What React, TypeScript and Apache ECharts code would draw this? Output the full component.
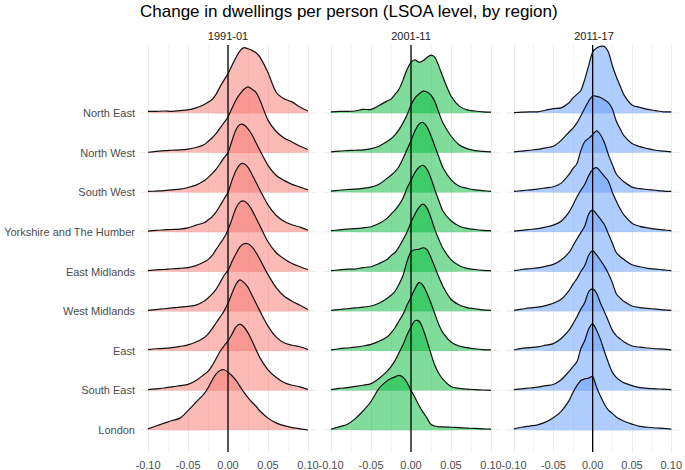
import React, { useEffect, useRef } from 'react';
import * as echarts from 'echarts';

const TITLE = 'Change in dwellings per person (LSOA level, by region)';
const periods = ['1991-01', '2001-11', '2011-17'];
// top to bottom
const regions = [
  'North East', 'North West', 'South West', 'Yorkshire and The Humber',
  'East Midlands', 'West Midlands', 'East', 'South East', 'London',
];
// x positions where ridge heights were read
const xs = [-0.1, -0.09, -0.08, -0.07, -0.06, -0.05, -0.04, -0.03, -0.025, -0.02, -0.015, -0.01, -0.005, 0,
  0.005, 0.01, 0.015, 0.02, 0.025, 0.03, 0.035, 0.04, 0.05, 0.06, 0.07, 0.08, 0.09, 0.1];

// ridge heights (in row spacings) for 1991-01, regions top to bottom
const ridges1991 = [
  [0.04,0.04,0.05,0.04,0.06,0.08,0.13,0.21,0.27,0.34,0.47,0.66,0.83,0.99,1.2,1.4,1.57,1.65,1.62,1.58,1.52,1.41,1.02,0.53,0.36,0.28,0.15,0.05],
  [0.01,0.03,0.05,0.06,0.07,0.09,0.13,0.2,0.28,0.37,0.48,0.62,0.76,0.9,1.12,1.33,1.48,1.6,1.66,1.6,1.52,1.32,0.82,0.54,0.37,0.27,0.16,0.08],
  [0.02,0.03,0.04,0.06,0.08,0.12,0.18,0.29,0.37,0.47,0.58,0.72,0.87,1.0,1.3,1.58,1.71,1.7,1.6,1.45,1.25,1.05,0.68,0.43,0.3,0.2,0.13,0.06],
  [0.02,0.04,0.05,0.06,0.07,0.1,0.17,0.23,0.3,0.38,0.5,0.66,0.83,1.0,1.3,1.55,1.7,1.72,1.63,1.45,1.25,1.05,0.68,0.42,0.27,0.18,0.12,0.04],
  [0.02,0.04,0.05,0.07,0.08,0.1,0.15,0.24,0.3,0.4,0.55,0.7,0.85,1.05,1.32,1.6,1.75,1.78,1.7,1.55,1.35,1.15,0.75,0.48,0.32,0.2,0.12,0.05],
  [0.02,0.04,0.06,0.08,0.1,0.12,0.15,0.25,0.33,0.43,0.55,0.72,0.9,1.03,1.25,1.45,1.62,1.7,1.7,1.62,1.48,1.3,0.92,0.6,0.38,0.25,0.15,0.04],
  [0.03,0.05,0.06,0.08,0.11,0.15,0.22,0.33,0.42,0.55,0.7,0.85,1.0,1.2,1.45,1.68,1.79,1.72,1.6,1.4,1.2,1.0,0.62,0.35,0.2,0.14,0.1,0.03],
  [0.02,0.04,0.06,0.09,0.12,0.15,0.25,0.4,0.48,0.62,0.8,0.98,1.12,1.25,1.42,1.6,1.67,1.6,1.45,1.25,1.03,0.82,0.52,0.33,0.2,0.13,0.09,0.02],
  [0.03,0.1,0.17,0.24,0.3,0.49,0.7,0.91,1.06,1.25,1.41,1.5,1.52,1.46,1.37,1.25,1.1,0.95,0.82,0.7,0.6,0.48,0.3,0.18,0.11,0.06,0.03,0.0],
];
const ridges2001 = [
  [0.03,0.04,0.04,0.05,0.09,0.09,0.19,0.3,0.35,0.47,0.6,0.83,1.1,1.28,1.34,1.28,1.32,1.4,1.46,1.4,1.17,0.9,0.43,0.18,0.08,0.05,0.03,0.02],
  [0.02,0.04,0.05,0.06,0.07,0.1,0.16,0.28,0.35,0.45,0.58,0.75,0.95,1.2,1.38,1.48,1.55,1.53,1.45,1.28,1.0,0.75,0.42,0.2,0.1,0.05,0.03,0.02],
  [0.03,0.05,0.07,0.08,0.1,0.13,0.2,0.35,0.43,0.52,0.65,0.85,1.08,1.3,1.55,1.72,1.76,1.65,1.42,1.15,0.88,0.62,0.32,0.16,0.1,0.06,0.04,0.02],
  [0.03,0.05,0.07,0.08,0.1,0.13,0.21,0.34,0.45,0.55,0.68,0.85,1.1,1.3,1.5,1.63,1.68,1.58,1.35,1.05,0.78,0.52,0.28,0.15,0.09,0.06,0.04,0.03],
  [0.02,0.04,0.06,0.06,0.1,0.12,0.2,0.3,0.4,0.48,0.62,0.8,1.0,1.24,1.45,1.62,1.7,1.6,1.35,1.05,0.8,0.58,0.3,0.15,0.08,0.05,0.03,0.02],
  [0.02,0.04,0.06,0.08,0.1,0.13,0.2,0.32,0.4,0.5,0.68,0.9,1.25,1.5,1.55,1.56,1.6,1.55,1.35,1.1,0.85,0.62,0.3,0.16,0.09,0.06,0.03,0.02],
  [0.02,0.05,0.07,0.09,0.12,0.16,0.24,0.35,0.45,0.58,0.75,0.92,1.15,1.35,1.57,1.72,1.65,1.45,1.2,0.92,0.65,0.45,0.22,0.12,0.08,0.05,0.03,0.02],
  [0.02,0.05,0.07,0.1,0.13,0.17,0.3,0.48,0.6,0.75,0.95,1.15,1.4,1.6,1.76,1.75,1.55,1.25,0.92,0.62,0.42,0.28,0.1,0.05,0.03,0.02,0.01,0.0],
  [0.02,0.08,0.14,0.28,0.48,0.72,1.05,1.24,1.3,1.34,1.38,1.33,1.2,1.0,0.82,0.62,0.45,0.3,0.14,0.1,0.08,0.08,0.07,0.06,0.05,0.04,0.03,0.02],
];
const ridges2011 = [
  [0.01,0.02,0.03,0.03,0.07,0.11,0.13,0.26,0.38,0.47,0.57,0.85,1.2,1.54,1.64,1.68,1.68,1.54,1.2,0.92,0.68,0.45,0.2,0.14,0.09,0.06,0.03,0.03],
  [0.02,0.04,0.06,0.08,0.12,0.16,0.31,0.52,0.62,0.75,0.93,1.12,1.3,1.43,1.42,1.39,1.33,1.26,1.1,0.8,0.6,0.42,0.23,0.15,0.1,0.06,0.04,0.02],
  [0.02,0.04,0.06,0.08,0.11,0.14,0.23,0.45,0.6,0.72,1.05,1.28,1.36,1.45,1.55,1.45,1.25,0.95,0.7,0.46,0.35,0.26,0.13,0.09,0.07,0.05,0.03,0.02],
  [0.02,0.04,0.06,0.08,0.12,0.17,0.27,0.5,0.68,0.88,1.05,1.2,1.42,1.57,1.62,1.52,1.4,1.28,1.0,0.78,0.58,0.42,0.22,0.14,0.1,0.07,0.05,0.03],
  [0.02,0.05,0.07,0.09,0.13,0.18,0.29,0.48,0.65,0.82,0.98,1.15,1.45,1.55,1.45,1.32,1.18,0.95,0.72,0.48,0.38,0.3,0.17,0.12,0.08,0.06,0.04,0.02],
  [0.02,0.05,0.08,0.1,0.14,0.2,0.3,0.52,0.68,0.82,1.0,1.15,1.41,1.52,1.42,1.28,1.13,0.95,0.72,0.44,0.33,0.24,0.13,0.09,0.07,0.05,0.03,0.02],
  [0.02,0.06,0.08,0.1,0.14,0.18,0.31,0.52,0.68,0.86,1.05,1.22,1.49,1.56,1.45,1.2,0.98,0.75,0.52,0.38,0.3,0.22,0.12,0.09,0.07,0.05,0.04,0.02],
  [0.02,0.04,0.06,0.08,0.12,0.15,0.27,0.48,0.6,0.72,1.05,1.26,1.55,1.68,1.52,1.28,0.98,0.7,0.46,0.33,0.25,0.19,0.12,0.07,0.05,0.04,0.03,0.02],
  [0.03,0.07,0.1,0.13,0.2,0.31,0.47,0.74,0.95,1.12,1.25,1.29,1.31,1.35,1.08,0.85,0.65,0.5,0.42,0.33,0.27,0.22,0.15,0.09,0.07,0.05,0.04,0.02],
];
const panelRidges = [ridges1991, ridges2001, ridges2011];
const panelColors = ['rgba(248,118,109,0.5)', 'rgba(0,186,56,0.5)', 'rgba(97,156,255,0.5)'];
const rowValues = [0, 1, 2, 3, 4, 5, 6, 7, 8];

const FONT = '"Liberation Sans", Arial, sans-serif';
const Y_MIN = -0.555;
const Y_MAX = 9.716;
const X_EXT = 0.11;
const gridLefts = [148, 331, 514];
const GRID_W = 160;

export default function App() {
  const ref = useRef<HTMLDivElement>(null);
  useEffect(() => {
    if (!ref.current) return;
    const chart = echarts.init(ref.current, null, { renderer: 'svg' });
    const nR = regions.length;

    const grids = gridLefts.map((l) => ({ left: l, top: 45, width: GRID_W, height: 407 }));
    const xAxes = gridLefts.map((_, g) => ({
      gridIndex: g, type: 'value', min: -0.1, max: 0.1, interval: 0.05,
      axisLine: { show: false }, axisTick: { show: false },
      axisLabel: { color: '#4D4D4D', fontSize: 11, fontFamily: FONT, margin: 7,
        formatter: (v: number) => v.toFixed(2) },
      splitLine: { show: true, lineStyle: { color: '#EBEBEB', width: 1 } },
      minorTick: { show: false, splitNumber: 2 },
      minorSplitLine: { show: true, lineStyle: { color: '#F3F3F3', width: 1 } },
    }));
    const yAxes = gridLefts.map((_, g) => ({
      gridIndex: g, type: 'value', min: Y_MIN, max: Y_MAX,
      axisLine: { show: false }, axisTick: { show: false }, splitLine: { show: false },
      axisLabel: g === 0 ? {
        show: true, customValues: rowValues, color: '#4D4D4D', fontSize: 11, fontFamily: FONT, margin: 13,
        formatter: (v: number) => regions[nR - 1 - Math.round(v)],
      } : { show: false },
    }));

    const series: any[] = [];
    gridLefts.forEach((_, g) => {
      // baseline grid lines
      series.push({
        type: 'custom', xAxisIndex: g, yAxisIndex: g, z: 1, silent: true,
        data: regions.map((r, i) => ({ name: r, value: [0, nR - 1 - i] })),
        renderItem: (params: any, api: any) => {
          const base = nR - 1 - params.dataIndex;
          const a = api.coord([-X_EXT, base]);
          const b = api.coord([X_EXT, base]);
          return { type: 'line', shape: { x1: a[0], y1: a[1], x2: b[0], y2: b[1] },
            style: { stroke: '#EBEBEB', lineWidth: 1 } };
        },
      });
      // ridges
      const dens = panelRidges[g];
      series.push({
        type: 'custom', xAxisIndex: g, yAxisIndex: g, z: 3, silent: true,
        data: regions.map((r, i) => ({ name: r, value: [0, nR - 1 - i] })),
        renderItem: (params: any, api: any) => {
          const i = params.dataIndex;
          const base = nR - 1 - i;
          const d = dens[i];
          const pts = xs.map((x, k) => api.coord([x, base + d[k]]));
          const b0 = api.coord([xs[0], base]);
          const b1 = api.coord([xs[xs.length - 1], base]);
          return {
            type: 'group',
            children: [
              { type: 'polygon', z2: i * 2, shape: { points: [b0, ...pts, b1], smooth: 0.3 },
                style: { fill: panelColors[g], stroke: null } },
              { type: 'polyline', z2: i * 2 + 1, shape: { points: pts, smooth: 0.3 },
                style: { fill: null, stroke: '#111111', lineWidth: 1.2 } },
            ],
          };
        },
      });
      // zero line
      series.push({
        type: 'custom', xAxisIndex: g, yAxisIndex: g, z: 10, silent: true,
        data: [[0, 0]],
        renderItem: (params: any, api: any) => {
          const a = api.coord([0, Y_MIN]);
          const b = api.coord([0, Y_MAX]);
          return { type: 'line', shape: { x1: a[0], y1: a[1], x2: b[0], y2: b[1] },
            style: { stroke: '#000000', lineWidth: 1.3 } };
        },
      });
    });

    const titles: any[] = [
      { text: TITLE, left: 140, top: 3, padding: 0,
        textStyle: { fontSize: 17, fontWeight: 'normal', color: '#000', fontFamily: FONT } },
      ...periods.map((p, g) => ({
        text: p, left: gridLefts[g] + GRID_W / 2, textAlign: 'center', top: 30, padding: 0,
        textStyle: { fontSize: 11, fontWeight: 'normal', color: '#1A1A1A', fontFamily: FONT },
      })),
    ];

    chart.setOption({
      animation: false,
      backgroundColor: '#ffffff',
      title: titles,
      grid: grids,
      xAxis: xAxes,
      yAxis: yAxes,
      series,
    });
    return () => chart.dispose();
  }, []);
  return <div ref={ref} style={{ position: 'fixed', left: 0, top: 0, width: 685, height: 470 }} />;
}
